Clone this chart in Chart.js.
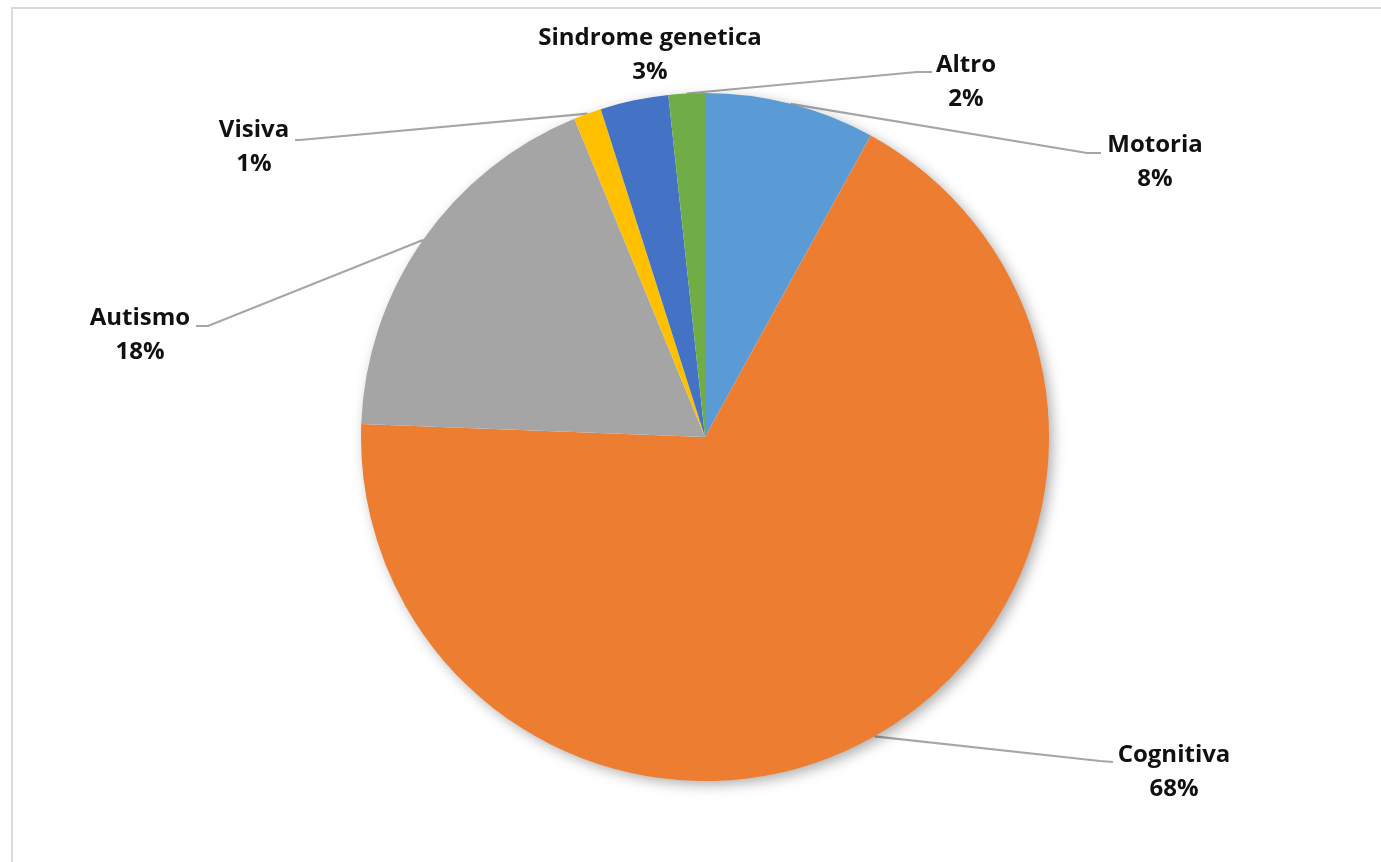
<!DOCTYPE html>
<html>
<head>
<meta charset="utf-8">
<script src="https://cdn.jsdelivr.net/npm/chart.js@4.4.0/dist/chart.umd.min.js"></script>
<style>
  html, body { margin: 0; padding: 0; background: #fff; overflow: hidden; }
  #wrap { position: relative; width: 1381px; height: 862px; }
  #cornice { position: absolute; left: 11px; top: 7px; right: -5px; bottom: -5px;
             border-top: 2px solid #d9d9d9; border-left: 2px solid #d9d9d9; }
  #grafico { position: absolute; left: 0; top: 0; }
</style>
</head>
<body>
<div id="wrap">
  <div id="cornice"></div>
  <canvas id="grafico" width="1381" height="862"></canvas>
</div>
<script>
// dati
const categorie = ["Motoria", "Cognitiva", "Autismo", "Visiva", "Sindrome genetica", "Altro"];
const valori = [8.0, 67.6, 18.2, 1.3, 3.2, 1.7];
const colori = ["#5B9BD5", "#ED7D31", "#A5A5A5", "#FFC000", "#4472C4", "#70AD47"];

// posizione delle etichette (centro del nome) e punti di piega delle linee guida
const posEtichette = [
  { x: 1155, y: 145 }, { x: 1174, y: 755 }, { x: 140, y: 318 },
  { x: 254, y: 130 }, { x: 650, y: 38 }, { x: 966, y: 65 }
];
const pieghe = [
  [[1087, 153], [1101, 153]],
  [[1100, 761], [1113, 762]],
  [[208, 326], [196, 326]],
  [[300, 140], [295, 140]],
  null,
  [[917, 72], [932, 72]]
];

const totale = valori.reduce((a, b) => a + b, 0);

const etichettePlugin = {
  id: "etichette",
  beforeDatasetsDraw(chart) {
    const ctx = chart.ctx;
    const archi = chart.getDatasetMeta(0).data;
    // linee guida sotto la torta
    ctx.save();
    ctx.strokeStyle = "#a6a6a6";
    ctx.lineWidth = 2.2;
    archi.forEach((arc, i) => {
      if (!pieghe[i]) return;
      const a = (arc.startAngle + arc.endAngle) / 2;
      const x0 = arc.x + Math.cos(a) * arc.outerRadius;
      const y0 = arc.y + Math.sin(a) * arc.outerRadius;
      ctx.beginPath();
      ctx.moveTo(x0, y0);
      pieghe[i].forEach(p => ctx.lineTo(p[0], p[1]));
      ctx.stroke();
    });
    ctx.restore();
    // ombra della torta
    const a0 = archi[0];
    ctx.save();
    ctx.shadowColor = "rgba(0,0,0,0.35)";
    ctx.shadowBlur = 14;
    ctx.shadowOffsetX = 4;
    ctx.shadowOffsetY = 4;
    ctx.fillStyle = "#ffffff";
    ctx.beginPath();
    ctx.arc(a0.x, a0.y, a0.outerRadius - 1, 0, Math.PI * 2);
    ctx.fill();
    ctx.restore();
  },
  afterDraw(chart) {
    const ctx = chart.ctx;
    ctx.save();
    ctx.fillStyle = "#111111";
    ctx.font = "bold 24px 'Open Sans'";
    ctx.textAlign = "center";
    ctx.textBaseline = "middle";
    categorie.forEach((nome, i) => {
      const p = posEtichette[i];
      const perc = Math.round(valori[i] / totale * 100) + "%";
      ctx.fillText(nome, p.x, p.y);
      ctx.fillText(perc, p.x, p.y + 34);
    });
    ctx.restore();
  }
};

new Chart(document.getElementById("grafico"), {
  type: "pie",
  data: {
    labels: categorie,
    datasets: [{
      data: valori,
      backgroundColor: colori,
      borderWidth: 0
    }]
  },
  options: {
    responsive: false,
    animation: false,
    layout: { padding: { top: 93, bottom: 81, left: 361, right: 332 } },
    plugins: {
      legend: { display: false },
      tooltip: { enabled: false }
    }
  },
  plugins: [etichettePlugin]
});
</script>
</body>
</html>
